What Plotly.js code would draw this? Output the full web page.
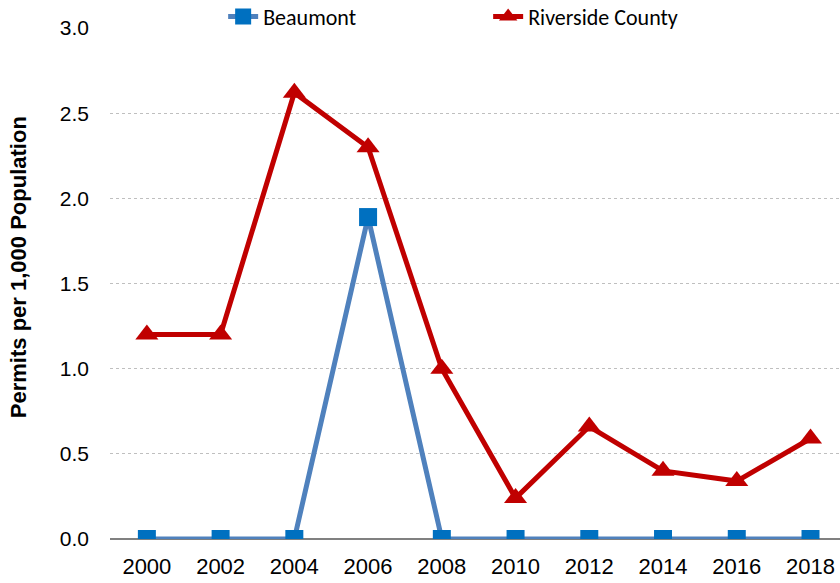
<!DOCTYPE html>
<html><head><meta charset="utf-8">
<script src="https://cdn.plot.ly/plotly-3.0.1.min.js"></script>
<style>body{margin:0;background:#fff}#c{width:840px;height:583px}</style>
</head><body><div id="c"></div>
<script>
const years = [2000,2002,2004,2006,2008,2010,2012,2014,2016,2018];
const beaumont = [0,0,0,1.89,0,0,0,0,0,0];
const riverside = [1.20,1.20,2.62,2.30,1.00,0.24,0.66,0.40,0.34,0.59];
const yTicks = [0,0.5,1.0,1.5,2.0,2.5,3.0];

const traces = [
  {x: years, y: beaumont, name: 'Beaumont', type: 'scatter', mode: 'lines+markers',
   line: {color: '#4F81BD', width: 5}, marker: {symbol: 'square', size: 18, color: '#0070C0'}},
  {x: years, y: riverside, name: 'Riverside County', type: 'scatter', mode: 'lines+markers',
   line: {color: '#C00000', width: 5}, marker: {symbol: 'triangle-up', size: 20, color: '#C00000'}}
];
const layout = {
  width: 840, height: 583,
  margin: {l: 110, r: 0, t: 28, b: 44, autoexpand: false},
  paper_bgcolor: '#fff', plot_bgcolor: '#fff',
  showlegend: true,
  legend: {orientation: 'h', x: 0.155, xanchor: 'left', y: 1.022, yanchor: 'middle',
    entrywidth: 220, entrywidthmode: 'pixels', tracegroupgap: 0,
    bgcolor: 'rgba(0,0,0,0)',
    font: {family: 'Carlito, Calibri, "Open Sans", sans-serif', size: 22, color: '#000'}},
  xaxis: {range: [1999.0, 2018.8], tickvals: years, ticktext: years.map(String),
    showgrid: false, zeroline: false, showline: false, ticks: '', ticklabelstandoff: 12,
    tickfont: {family: 'Liberation Sans, Arial, sans-serif', size: 22, color: '#000'}},
  yaxis: {range: [0, 3.0], tickvals: yTicks, ticktext: yTicks.map(v => v.toFixed(1)),
    showgrid: true, gridcolor: '#BFBFBF', griddash: 'dot', gridwidth: 1,
    zeroline: true, zerolinecolor: '#808080', zerolinewidth: 2,
    ticks: '', ticklabelstandoff: 20,
    tickfont: {family: 'Liberation Sans, Arial, sans-serif', size: 21, color: '#000'}},
  annotations: [{text: '<b>Permits per 1,000 Population</b>', xref: 'paper', yref: 'paper',
    x: -0.126, y: 0.532, xanchor: 'center', yanchor: 'middle', textangle: -90, showarrow: false,
    font: {family: 'Liberation Sans, Arial, sans-serif', size: 22, color: '#000'}}]
};
Plotly.newPlot('c', traces, layout, {displayModeBar: false, staticPlot: true});
</script></body></html>
